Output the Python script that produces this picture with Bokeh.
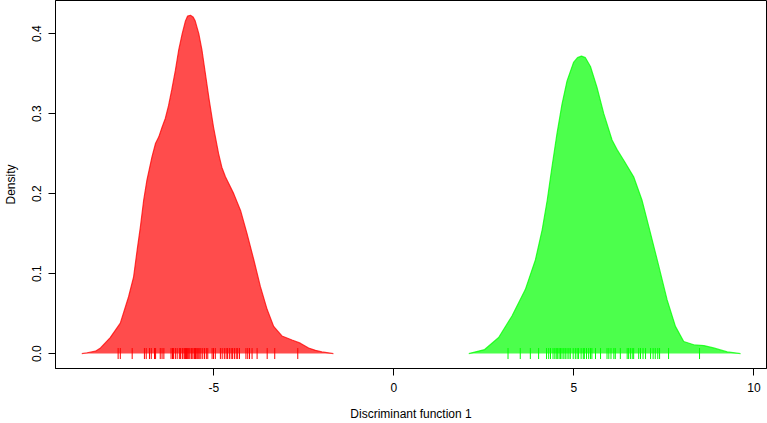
import math
from bokeh.plotting import figure
from bokeh.models import Range1d, FixedTicker, PrintfTickFormatter
from bokeh.embed import file_html
from bokeh.resources import INLINE

# Density curve of group 1 (red)
red_x = [-8.67, -8.52, -8.29, -8.15, -7.88, -7.60, -7.37, -7.23, -7.13, -7.04,
         -6.95, -6.86, -6.72, -6.62, -6.53, -6.44, -6.35, -6.26, -6.17, -6.07,
         -5.98, -5.88, -5.79, -5.73, -5.65, -5.58, -5.52, -5.42, -5.33, -5.13,
         -5.01, -4.87, -4.78, -4.68, -4.45, -4.26, -4.08, -3.89, -3.71, -3.52,
         -3.34, -3.11, -2.83, -2.60, -2.37, -2.18, -2.00, -1.68]
red_y = [0.000, 0.001, 0.003, 0.007, 0.020, 0.038, 0.071, 0.096, 0.130, 0.159,
         0.192, 0.217, 0.246, 0.263, 0.271, 0.283, 0.294, 0.310, 0.330, 0.354,
         0.379, 0.400, 0.416, 0.422, 0.423, 0.421, 0.416, 0.400, 0.379, 0.317,
         0.283, 0.250, 0.233, 0.221, 0.200, 0.179, 0.150, 0.117, 0.084, 0.055,
         0.034, 0.022, 0.017, 0.013, 0.007, 0.004, 0.002, 0.000]

# Density curve of group 2 (green)
green_x = [2.08, 2.52, 2.91, 3.28, 3.65, 3.93, 4.12, 4.26, 4.39, 4.53,
           4.67, 4.81, 4.99, 5.10, 5.21, 5.32, 5.46, 5.64, 5.83, 6.06,
           6.20, 6.38, 6.66, 6.89, 7.13, 7.36, 7.59, 7.82, 8.05, 8.33,
           8.61, 8.88, 9.26, 9.63]
green_y = [0.000, 0.005, 0.020, 0.047, 0.080, 0.117, 0.155, 0.192, 0.233, 0.275,
           0.312, 0.341, 0.364, 0.370, 0.372, 0.370, 0.359, 0.333, 0.300, 0.267,
           0.255, 0.242, 0.221, 0.192, 0.150, 0.109, 0.067, 0.034, 0.015, 0.011,
           0.010, 0.007, 0.002, 0.000]

# Rug (individual discriminant scores)
red_rug = [-7.66, -7.60, -7.27, -6.93, -6.88, -6.79, -6.74, -6.65, -6.62, -6.49,
           -6.44, -6.39, -6.19, -6.15, -6.12, -6.07, -6.02, -5.96, -5.93, -5.88,
           -5.86, -5.82, -5.79, -5.76, -5.73, -5.70, -5.67, -5.63, -5.61, -5.58,
           -5.54, -5.51, -5.49, -5.45, -5.42, -5.39, -5.36, -5.31, -5.26, -5.21,
           -5.17, -5.05, -5.01, -4.96, -4.82, -4.77, -4.71, -4.66, -4.62, -4.57,
           -4.52, -4.48, -4.43, -4.38, -4.34, -4.29, -4.11, -4.06, -4.01, -3.94,
           -3.80, -3.52, -3.31, -2.67]
green_rug = [3.17, 3.51, 3.79, 4.02, 4.24, 4.30, 4.35, 4.42, 4.47, 4.51,
             4.55, 4.59, 4.63, 4.67, 4.72, 4.76, 4.81, 4.86, 4.90, 4.98,
             5.04, 5.09, 5.13, 5.20, 5.26, 5.29, 5.35, 5.41, 5.46, 5.50,
             5.60, 5.74, 5.92, 5.97, 6.03, 6.11, 6.15, 6.29, 6.48, 6.52,
             6.57, 6.62, 6.66, 6.80, 6.85, 6.92, 6.99, 7.13, 7.20, 7.26,
             7.33, 7.38, 7.63, 8.49]

x_ticks = [-5, 0, 5, 10]
y_ticks = [0.0, 0.1, 0.2, 0.3, 0.4]
x_title = "Discriminant function 1"
y_title = "Density"

FONT = "Liberation Sans"

p = figure(width=767, height=423, output_backend="svg", toolbar_location=None,
           x_range=Range1d(-9.40, 10.35), y_range=Range1d(-0.0187, 0.4415),
           min_border_left=55, min_border_right=1, min_border_top=0,
           min_border_bottom=54)
p.background_fill_color = "white"
p.border_fill_color = "white"
p.outline_line_color = "black"
p.outline_line_width = 1
p.xgrid.visible = False
p.ygrid.visible = False

p.varea(x=red_x, y1=[0] * len(red_x), y2=red_y, fill_color="#ff0000", fill_alpha=0.7)
p.line(red_x, red_y, line_color="#ff0000", line_alpha=0.75, line_width=1.2)
p.varea(x=green_x, y1=[0] * len(green_x), y2=green_y, fill_color="#00ff00", fill_alpha=0.7)
p.line(green_x, green_y, line_color="#00ff00", line_alpha=0.75, line_width=1.2)

p.scatter(red_rug, [0] * len(red_rug), marker="dash", angle=math.pi / 2, size=11,
          line_color="#ff0000", line_width=1)
p.scatter(green_rug, [0] * len(green_rug), marker="dash", angle=math.pi / 2, size=11,
          line_color="#00ff00", line_width=1)

for ax in (p.xaxis[0], p.yaxis[0]):
    ax.axis_line_color = "black"
    ax.major_tick_line_color = "black"
    ax.minor_tick_line_color = None
    ax.major_tick_out = 7
    ax.major_tick_in = 0
    ax.major_label_text_font = FONT
    ax.major_label_text_font_size = "12px"
    ax.major_label_text_color = "black"
    ax.axis_label_text_font = FONT
    ax.axis_label_text_font_size = "12px"
    ax.axis_label_text_font_style = "normal"
    ax.axis_label_text_color = "black"

p.xaxis[0].ticker = FixedTicker(ticks=x_ticks)
p.xaxis[0].formatter = PrintfTickFormatter(format="%d")
p.yaxis[0].ticker = FixedTicker(ticks=y_ticks)
p.yaxis[0].formatter = PrintfTickFormatter(format="%.1f")
p.yaxis[0].major_label_orientation = "vertical"
p.xaxis[0].axis_label = x_title
p.yaxis[0].axis_label = y_title
p.xaxis[0].major_label_standoff = 7
p.xaxis[0].axis_label_standoff = 12
p.yaxis[0].major_label_standoff = 7
p.yaxis[0].axis_label_standoff = 12

open("out.html", "w").write(file_html(p, INLINE))
